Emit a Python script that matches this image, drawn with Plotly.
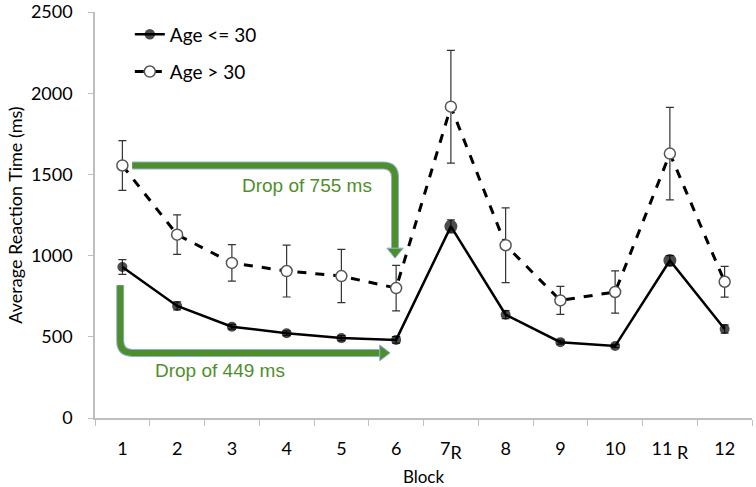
import plotly.graph_objects as go

# data
blocks = list(range(1, 13))
R = "<sub><span style='font-size:18px'>R</span></sub>"
block_labels = ["1", "2", "3", "4", "5", "6", "7" + R, "8", "9", "10", "11 " + R, "12"]
young_rt = [930, 690, 562, 522, 492, 481, 1180, 636, 467, 443, 970, 548]
young_err = [45, 25, 15, 15, 15, 20, 40, 25, 12, 10, 30, 25]
old_rt = [1555, 1129, 955, 905, 874, 800, 1917, 1064, 724, 776, 1628, 839]
old_err = [153, 122, 112, 160, 164, 140, 347, 230, 86, 130, 285, 95]

GREEN = "#4f8f2b"
EDGE = "#8fb0d0"
AXIS = "#bfbfbf"

fig = go.Figure()

fig.add_trace(go.Scatter(
    x=blocks, y=young_rt, name="Age <= 30", legend="legend",
    mode="lines+markers",
    line=dict(color="black", width=2.5),
    marker=dict(color="black", size=[10, 10, 10, 10, 10, 10, 13, 10, 10, 10, 13, 10],
                line=dict(color="black", width=0)),
    error_y=dict(type="data", array=young_err, color="#333333", thickness=1.2, width=4),
))
fig.add_trace(go.Scatter(
    x=blocks, y=old_rt, name="Age > 30", legend="legend2",
    mode="lines+markers",
    line=dict(color="black", width=3, dash="dash"),
    marker=dict(color="white", size=11, line=dict(color="#555555", width=1.5)),
    error_y=dict(type="data", array=old_err, color="#333333", thickness=1.2, width=4),
))

# green arrows (annotation geometry)
xr, yr = 0.22, 74
top_x0, top_x1, top_tip = 1.18, 5.98, 984
top_y = old_rt[0]
head_len_y, head_half_x = 62, 0.15
upper = (f"M {top_x0},{top_y} L {top_x1 - xr},{top_y} Q {top_x1},{top_y} {top_x1},{top_y - yr} "
         f"L {top_x1},{top_tip + head_len_y}")
upper_head = (f"M {top_x1 - head_half_x},{top_tip + head_len_y} L {top_x1 + head_half_x},{top_tip + head_len_y} "
              f"L {top_x1},{top_tip} Z")

low_x, low_y0, low_y, low_tip = 0.96, 818, 401, 5.89
head_len_x, head_half_y = 0.19, 49
lower = (f"M {low_x},{low_y0} L {low_x},{low_y + yr} Q {low_x},{low_y} {low_x + xr},{low_y} "
         f"L {low_tip - head_len_x},{low_y}")
lower_head = (f"M {low_tip - head_len_x},{low_y - head_half_y} L {low_tip - head_len_x},{low_y + head_half_y} "
              f"L {low_tip},{low_y} Z")

shapes = []
for p in (upper, lower):
    shapes.append(dict(type="path", path=p, xref="x", yref="y", line=dict(color=EDGE, width=8), layer="below"))
    shapes.append(dict(type="path", path=p, xref="x", yref="y", line=dict(color=GREEN, width=6), layer="below"))
for p in (upper_head, lower_head):
    shapes.append(dict(type="path", path=p, xref="x", yref="y", fillcolor=GREEN,
                       line=dict(color=EDGE, width=1), layer="below"))

annotations = [
    dict(x=4.37, y=1431, text=f"Drop of {old_rt[0] - old_rt[5]} ms", showarrow=False,
         font=dict(family="Liberation Sans, Arial", size=19, color=GREEN)),
    dict(x=2.78, y=291, text=f"Drop of {young_rt[0] - young_rt[5]} ms", showarrow=False,
         font=dict(family="Liberation Sans, Arial", size=19, color=GREEN)),
]

fig.update_layout(
    width=756, height=487,
    margin=dict(l=95, r=4, t=12, b=69),
    plot_bgcolor="white", paper_bgcolor="white",
    font=dict(family="Lato, Open Sans, sans-serif", size=18, color="black"),
    shapes=shapes,
    annotations=annotations,
    legend=dict(x=0.053, y=0.945, xanchor="left", yanchor="middle", bgcolor="rgba(0,0,0,0)",
                font=dict(size=19)),
    legend2=dict(x=0.053, y=0.853, xanchor="left", yanchor="middle", bgcolor="rgba(0,0,0,0)",
                 font=dict(size=19)),
    showlegend=True,
)
fig.update_xaxes(
    range=[0.5, 12.5], tickmode="array", tickvals=blocks, ticktext=block_labels,
    ticks="", ticklabelstandoff=14, showgrid=False, zeroline=False, automargin=False,
    showline=True, linecolor=AXIS, linewidth=1.5,
    minor=dict(tickmode="array", tickvals=[b - 0.5 for b in blocks] + [12.5],
               ticks="outside", ticklen=6, tickcolor=AXIS, tickwidth=1),
    title=dict(text="Block", font=dict(size=17), standoff=9),
)
fig.update_yaxes(
    range=[0, 2500], dtick=500, ticks="outside", ticklen=5, tickcolor=AXIS,
    ticklabelstandoff=12, automargin=False, ticklabeloverflow="allow",
    showgrid=False, zeroline=False, showline=True, linecolor=AXIS, linewidth=1.5,
    title=dict(text="Average Reaction Time (ms)", font=dict(size=18), standoff=4),
)

fig.write_html("out.html", config={"displayModeBar": False},
               post_script="document.body.style.margin='0px';")
